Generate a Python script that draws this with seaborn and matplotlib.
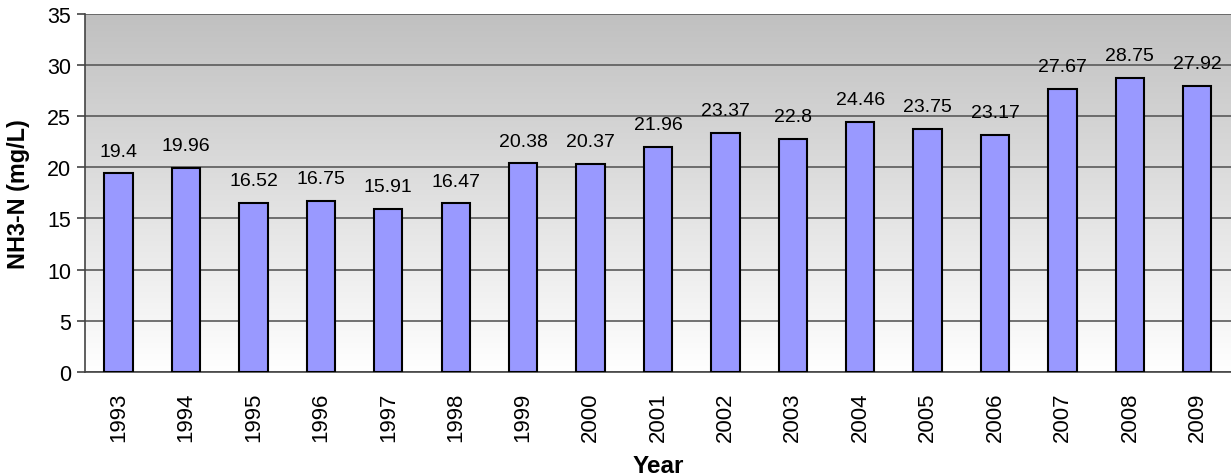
import numpy as np
import pandas as pd
import matplotlib
matplotlib.use('Agg')
import matplotlib.pyplot as plt
import seaborn as sns

years = ['1993', '1994', '1995', '1996', '1997', '1998', '1999', '2000', '2001',
         '2002', '2003', '2004', '2005', '2006', '2007', '2008', '2009']
nh3n = [19.4, 19.96, 16.52, 16.75, 15.91, 16.47, 20.38, 20.37, 21.96,
        23.37, 22.8, 24.46, 23.75, 23.17, 27.67, 28.75, 27.92]

df = pd.DataFrame({'Year': years, 'NH3N': nh3n})

sns.set_style('white')
plt.rcParams['font.family'] = ['Liberation Sans', 'DejaVu Sans']
plt.rcParams['text.color'] = 'black'
plt.rcParams['axes.labelcolor'] = 'black'
plt.rcParams['xtick.color'] = 'black'
plt.rcParams['ytick.color'] = 'black'

fig = plt.figure(figsize=(12.31, 4.77), dpi=100)
ax = fig.add_axes([0.069, 0.218, 0.931, 0.751])

# gray-to-white gradient background
grad = np.linspace(0, 1, 256).reshape(-1, 1)
cmap = matplotlib.colors.LinearSegmentedColormap.from_list('g', ['#ffffff', '#c0c0c0'])
ax.imshow(grad, cmap=cmap, extent=[0, 1, 0, 1], transform=ax.transAxes,
          aspect='auto', origin='lower', zorder=0)

sns.barplot(data=df, x='Year', y='NH3N', color='#9999ff', edgecolor='black', linewidth=1.5,
            width=0.42, saturation=1, ax=ax, zorder=3)

for i, v in enumerate(nh3n):
    ax.text(i, v + 1.75, f'{v:g}', ha='center', va='baseline', fontsize=14, zorder=4)

ax.set_xlim(-0.5, len(years) - 0.5)
ax.set_ylim(0, 35)
ax.set_yticks(range(0, 36, 5))
ax.yaxis.grid(True, color='#5a5a5a', linewidth=1.2, zorder=1)
ax.set_axisbelow(True)
for s in ['top', 'right']:
    ax.spines[s].set_visible(False)
for s in ['left', 'bottom']:
    ax.spines[s].set_color('#444444')
    ax.spines[s].set_linewidth(1.2)

ax.set_xticks(np.arange(len(years)))
ax.set_xticklabels(years, rotation=90, fontsize=16)
ax.tick_params(axis='x', length=0, pad=14)
ax.set_xticks(np.arange(len(years) + 1) - 0.5, minor=True)
ax.tick_params(axis='x', which='minor', length=6, width=1.2, color='#444444', direction='out')
ax.tick_params(axis='y', labelsize=15.5, length=6, width=1.2, color='#444444', left=True, pad=4)

ax.set_xlabel('Year', fontsize=17.5, fontweight='bold')
ax.xaxis.set_label_coords(0.5, -0.228)
ax.set_ylabel('NH3-N (mg/L)', fontsize=16.8, fontweight='bold', labelpad=12)

fig.savefig('out.png', dpi=100)
